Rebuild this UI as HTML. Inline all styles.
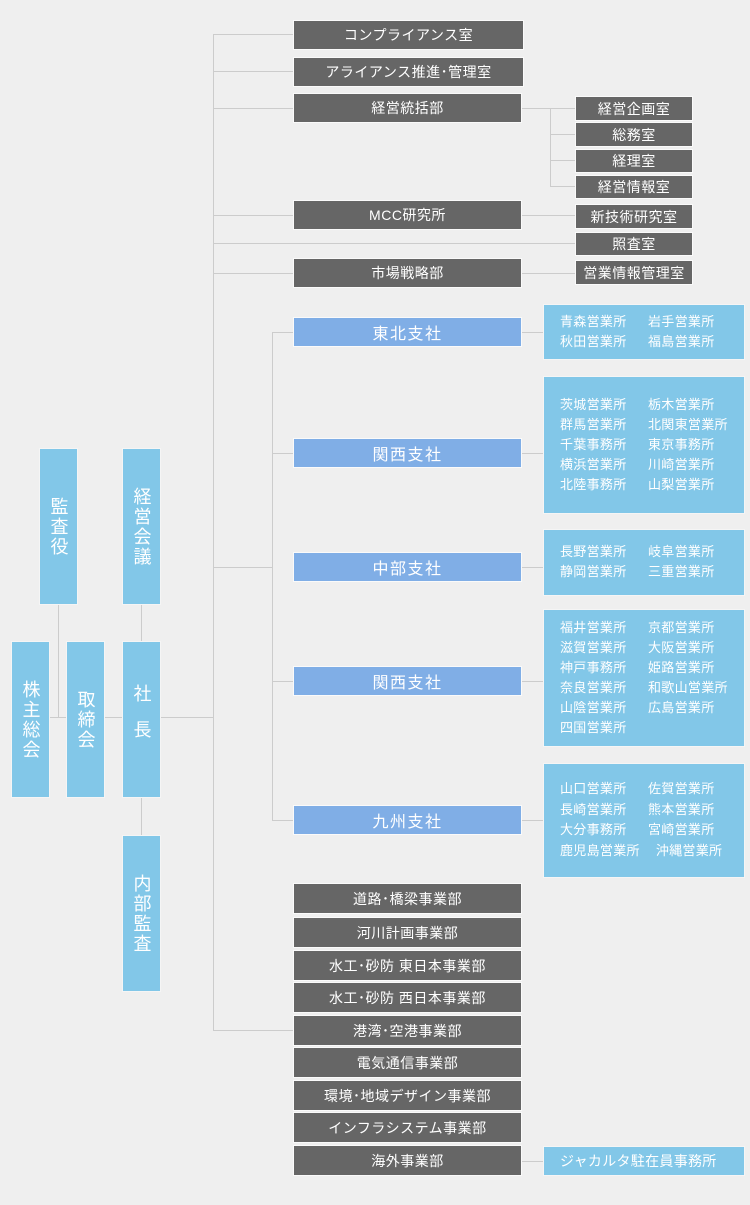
<!DOCTYPE html>
<html><head><meta charset="utf-8"><style>
body{margin:0;background:#efefef;width:750px;height:1205px;position:relative;overflow:hidden;font-family:"Liberation Sans","Noto Sans CJK JP",sans-serif;}
div{position:absolute;box-sizing:border-box;}
.l{background:#cccccc;}
.d{background:#666666;color:#fff;font-size:14px;text-align:center;border:1px solid #fafafa;display:flex;align-items:center;justify-content:center;letter-spacing:0.5px;}
.b{background:#80aee6;color:#fff;font-size:16px;text-align:center;border:1px solid #fafafa;display:flex;align-items:center;justify-content:center;letter-spacing:1.5px;}
.c{background:#82c7e8;border:1px solid #f5f5f5;}
.v{background:#82c7e8;color:#fff;font-size:18px;border:1px solid #f5f5f5;writing-mode:vertical-rl;display:flex;align-items:center;justify-content:center;letter-spacing:2px;}
.t{color:#fff;font-size:13px;white-space:nowrap;line-height:20px;letter-spacing:0.3px;}
</style></head><body>
<div class="l" style="left:213px;top:34px;width:1px;height:996px"></div>
<div class="l" style="left:213px;top:34px;width:80px;height:1px"></div>
<div class="l" style="left:213px;top:71px;width:80px;height:1px"></div>
<div class="l" style="left:213px;top:108px;width:80px;height:1px"></div>
<div class="l" style="left:213px;top:215px;width:80px;height:1px"></div>
<div class="l" style="left:213px;top:243px;width:362px;height:1px"></div>
<div class="l" style="left:213px;top:273px;width:80px;height:1px"></div>
<div class="l" style="left:213px;top:567px;width:59px;height:1px"></div>
<div class="l" style="left:213px;top:1030px;width:80px;height:1px"></div>
<div class="l" style="left:522px;top:108px;width:53px;height:1px"></div>
<div class="l" style="left:550px;top:108px;width:1px;height:78px"></div>
<div class="l" style="left:550px;top:134px;width:25px;height:1px"></div>
<div class="l" style="left:550px;top:160px;width:25px;height:1px"></div>
<div class="l" style="left:550px;top:186px;width:25px;height:1px"></div>
<div class="l" style="left:522px;top:215px;width:53px;height:1px"></div>
<div class="l" style="left:522px;top:273px;width:53px;height:1px"></div>
<div class="l" style="left:272px;top:332px;width:1px;height:489px"></div>
<div class="l" style="left:272px;top:332px;width:21px;height:1px"></div>
<div class="l" style="left:272px;top:453px;width:21px;height:1px"></div>
<div class="l" style="left:272px;top:681px;width:21px;height:1px"></div>
<div class="l" style="left:272px;top:820px;width:21px;height:1px"></div>
<div class="l" style="left:522px;top:332px;width:22px;height:1px"></div>
<div class="l" style="left:522px;top:453px;width:22px;height:1px"></div>
<div class="l" style="left:522px;top:567px;width:22px;height:1px"></div>
<div class="l" style="left:522px;top:681px;width:22px;height:1px"></div>
<div class="l" style="left:522px;top:820px;width:22px;height:1px"></div>
<div class="l" style="left:522px;top:1161px;width:22px;height:1px"></div>
<div class="l" style="left:49px;top:717px;width:164px;height:1px"></div>
<div class="l" style="left:58px;top:605px;width:1px;height:112px"></div>
<div class="l" style="left:141px;top:605px;width:1px;height:230px"></div>

<div class="v" style="left:39px;top:448px;width:39px;height:157px">監査役</div>
<div class="v" style="left:122px;top:448px;width:39px;height:157px">経営会議</div>
<div class="v" style="left:11px;top:641px;width:39px;height:157px">株主総会</div>
<div class="v" style="left:66px;top:641px;width:39px;height:157px">取締会</div>
<div class="v" style="left:122px;top:641px;width:39px;height:157px;letter-spacing:18px">社長</div>
<div class="v" style="left:122px;top:835px;width:39px;height:157px">内部監査</div>

<div class="d" style="left:293px;top:20px;width:231px;height:30px">コンプライアンス室</div>
<div class="d" style="left:293px;top:57px;width:231px;height:30px">アライアンス推進･管理室</div>
<div class="d" style="left:293px;top:93px;width:229px;height:30px">経営統括部</div>
<div class="d" style="left:293px;top:200px;width:229px;height:30px">MCC研究所</div>
<div class="d" style="left:293px;top:258px;width:229px;height:30px">市場戦略部</div>
<div class="d" style="left:575px;top:96px;width:118px;height:25px">経営企画室</div>
<div class="d" style="left:575px;top:122px;width:118px;height:25px">総務室</div>
<div class="d" style="left:575px;top:149px;width:118px;height:24px">経理室</div>
<div class="d" style="left:575px;top:175px;width:118px;height:24px">経営情報室</div>
<div class="d" style="left:575px;top:204px;width:118px;height:25px">新技術研究室</div>
<div class="d" style="left:575px;top:232px;width:118px;height:24px">照査室</div>
<div class="d" style="left:575px;top:260px;width:118px;height:25px">営業情報管理室</div>

<div class="b" style="left:293px;top:317px;width:229px;height:30px">東北支社</div>
<div class="b" style="left:293px;top:438px;width:229px;height:30px">関西支社</div>
<div class="b" style="left:293px;top:552px;width:229px;height:30px">中部支社</div>
<div class="b" style="left:293px;top:666px;width:229px;height:30px">関西支社</div>
<div class="b" style="left:293px;top:805px;width:229px;height:30px">九州支社</div>

<div class="c" style="left:543px;top:304px;width:202px;height:56px"></div>
<div class="t" style="left:560px;top:312px">青森営業所<br>秋田営業所</div>
<div class="t" style="left:648px;top:312px">岩手営業所<br>福島営業所</div>

<div class="c" style="left:543px;top:376px;width:202px;height:138px"></div>
<div class="t" style="left:560px;top:395px">茨城営業所<br>群馬営業所<br>千葉事務所<br>横浜営業所<br>北陸事務所</div>
<div class="t" style="left:648px;top:395px">栃木営業所<br>北関東営業所<br>東京事務所<br>川崎営業所<br>山梨営業所</div>

<div class="c" style="left:543px;top:529px;width:202px;height:67px"></div>
<div class="t" style="left:560px;top:542px">長野営業所<br>静岡営業所</div>
<div class="t" style="left:648px;top:542px">岐阜営業所<br>三重営業所</div>

<div class="c" style="left:543px;top:609px;width:202px;height:138px"></div>
<div class="t" style="left:560px;top:618px">福井営業所<br>滋賀営業所<br>神戸事務所<br>奈良営業所<br>山陰営業所<br>四国営業所</div>
<div class="t" style="left:648px;top:618px">京都営業所<br>大阪営業所<br>姫路営業所<br>和歌山営業所<br>広島営業所</div>

<div class="c" style="left:543px;top:763px;width:202px;height:115px"></div>
<div class="t" style="left:560px;top:779px;line-height:20.5px">山口営業所<br>長崎営業所<br>大分事務所<br>鹿児島営業所</div>
<div class="t" style="left:648px;top:779px;line-height:20.5px">佐賀営業所<br>熊本営業所<br>宮崎営業所<br>&nbsp;&nbsp;沖縄営業所</div>

<div class="d" style="left:293px;top:883px;width:229px;height:31px">道路･橋梁事業部</div>
<div class="d" style="left:293px;top:917px;width:229px;height:31px">河川計画事業部</div>
<div class="d" style="left:293px;top:950px;width:229px;height:31px">水工･砂防 東日本事業部</div>
<div class="d" style="left:293px;top:982px;width:229px;height:31px">水工･砂防 西日本事業部</div>
<div class="d" style="left:293px;top:1015px;width:229px;height:31px">港湾･空港事業部</div>
<div class="d" style="left:293px;top:1047px;width:229px;height:31px">電気通信事業部</div>
<div class="d" style="left:293px;top:1080px;width:229px;height:31px">環境･地域デザイン事業部</div>
<div class="d" style="left:293px;top:1112px;width:229px;height:31px">インフラシステム事業部</div>
<div class="d" style="left:293px;top:1145px;width:229px;height:31px">海外事業部</div>
<div class="c" style="left:543px;top:1146px;width:202px;height:30px"></div>
<div class="t" style="left:560px;top:1151px;font-size:14px">ジャカルタ駐在員事務所</div>
</body></html>
